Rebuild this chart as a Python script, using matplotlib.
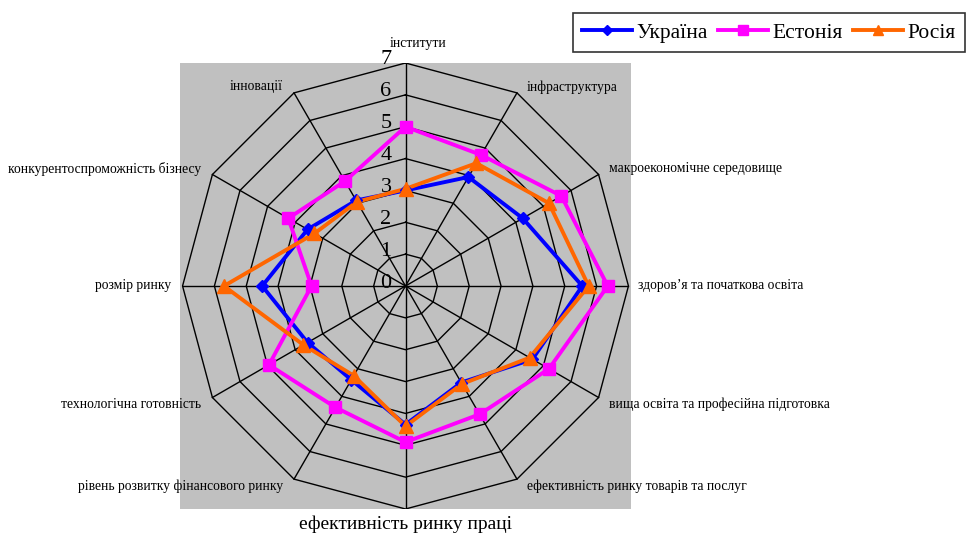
import numpy as np
import matplotlib
matplotlib.use("Agg")
import matplotlib.pyplot as plt
from matplotlib.lines import Line2D

plt.rcParams["font.family"] = ["Liberation Serif", "DejaVu Serif"]

CATEGORIES = [
    "інститути",
    "інфраструктура",
    "макроекономічне середовище",
    "здоров’я та початкова освіта",
    "вища освіта та професійна підготовка",
    "ефективність ринку товарів та послуг",
    "ефективність ринку праці",
    "рівень розвитку фінансового ринку",
    "технологічна готовність",
    "розмір ринку",
    "конкурентоспроможність бізнесу",
    "інновації",
]

UKRAINE = [3.0, 3.95, 4.25, 5.55, 4.6, 3.5, 4.35, 3.4, 3.55, 4.5, 3.55, 3.1]
ESTONIA = [5.0, 4.75, 5.65, 6.35, 5.2, 4.65, 4.9, 4.4, 4.95, 2.95, 4.25, 3.8]
RUSSIA = [3.05, 4.45, 5.2, 5.75, 4.5, 3.55, 4.4, 3.25, 3.7, 5.7, 3.3, 3.05]

SERIES_NAMES = ["Україна", "Естонія", "Росія"]
R_TICKS = [0, 1, 2, 3, 4, 5, 6, 7]
R_MAX = 7

SERIES_STYLE = [
    dict(color="#0000FF", marker="D", markersize=6.5),
    dict(color="#FF00FF", marker="s", markersize=8.5),
    dict(color="#FF6600", marker="^", markersize=9.5),
]

n = len(CATEGORIES)
theta = np.arange(n) * 2 * np.pi / n  # clockwise from top


def to_xy(r):
    r = np.asarray(r, dtype=float)
    return r * np.sin(theta), r * np.cos(theta)


fig = plt.figure(figsize=(9.68, 5.33), dpi=100)
ax = fig.add_axes([180 / 968, 24 / 533, 451 / 968, 446 / 533])
ax.set_facecolor("#C0C0C0")
ax.set_xlim(-7.08, 7.08)
ax.set_ylim(-7.0, 7.0)
ax.set_xticks([])
ax.set_yticks([])
for s in ax.spines.values():
    s.set_visible(False)

# polygon grid + spokes
for r in R_TICKS[1:]:
    gx, gy = to_xy(np.full(n, r))
    ax.plot(np.append(gx, gx[0]), np.append(gy, gy[0]), color="black", lw=1.0, zorder=1)
ox, oy = to_xy(np.full(n, R_MAX))
for x, y in zip(ox, oy):
    ax.plot([0, x], [0, y], color="black", lw=1.0, zorder=1)

# radial tick labels
for r in R_TICKS:
    ax.annotate(str(r), (0, r), xytext=(-14, 3), textcoords="offset pixels",
                ha="right", va="center", fontsize=16, zorder=2)

# series
for vals, style in zip([UKRAINE, ESTONIA, RUSSIA], SERIES_STYLE):
    x, y = to_xy(vals)
    ax.plot(np.append(x, x[0]), np.append(y, y[0]), lw=2.8, color=style["color"],
            zorder=3)
    ax.plot(x, y, ls="none", marker=style["marker"], ms=style["markersize"],
            color=style["color"], zorder=4)

# category labels
for i, lab in enumerate(CATEGORIES):
    s, c = np.sin(theta[i]), np.cos(theta[i])
    px, py = R_MAX * s, R_MAX * c
    if i == 0:
        ax.annotate(lab, (px, py), xytext=(13, 19), textcoords="offset pixels",
                    ha="center", va="center", fontsize=9.8, annotation_clip=False)
        continue
    if i == 6:
        ax.annotate(lab, (px, py), xytext=(0, -15), textcoords="offset pixels",
                    ha="center", va="center", fontsize=14, annotation_clip=False)
        continue
    ha = "left" if s > 0 else "right"
    dx = 10 if s > 0 else -11
    if c > 0.1:
        dy = 6
    elif c < -0.1:
        dy = -7
    else:
        dy = 0
    ax.annotate(lab, (px, py), xytext=(dx, dy), textcoords="offset pixels",
                ha=ha, va="center", fontsize=9.8, annotation_clip=False)

handles = [Line2D([], [], color=st["color"], marker=st["marker"],
                  ms=st["markersize"] * 0.8, lw=2.8) for st in SERIES_STYLE]
leg = fig.legend(handles, SERIES_NAMES, loc="upper right",
                 bbox_to_anchor=(965 / 968, 1 - 13 / 533), ncol=3, fontsize=15.5,
                 frameon=True, fancybox=False, edgecolor="black",
                 handlelength=2.3, handletextpad=0.2, columnspacing=0.5,
                 borderpad=0.45, borderaxespad=0)
leg.get_frame().set_linewidth(1.2)

fig.savefig("out.png", dpi=100)
